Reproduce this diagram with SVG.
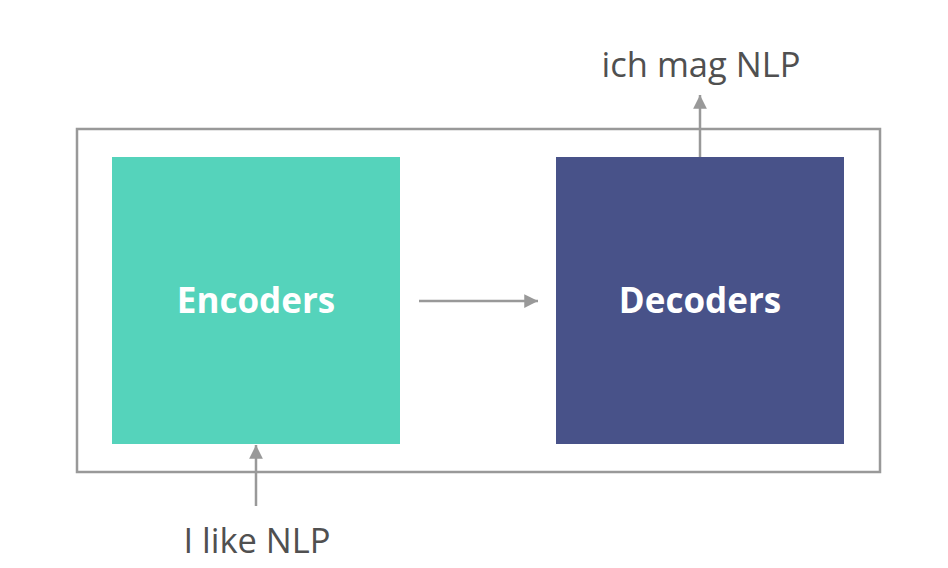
<svg xmlns="http://www.w3.org/2000/svg" width="948" height="568" viewBox="0 0 948 568">
<style>
.lbl{font-family:"Open Sans","Noto Sans",sans-serif;font-size:34.5px;fill:#505050;text-anchor:middle}
.nt{font-family:"Open Sans","Noto Sans",sans-serif;font-size:35px;font-weight:bold;fill:#ffffff;text-anchor:middle}
.conn{stroke:#999999;stroke-width:2.5;fill:none}
</style>
<defs>
<marker id="ah" viewBox="0 0 10 10" refX="10" refY="5" markerWidth="5.5" markerHeight="5.5" orient="auto" markerUnits="strokeWidth">
<path d="M0,0 L10,5 L0,10 z" fill="#999999"/>
</marker>
</defs>
<rect width="948" height="568" fill="#ffffff"/>
<g id="container"><rect x="77" y="129" width="803" height="343" fill="none" stroke="#999999" stroke-width="2.5"/></g>
<g id="encoders"><rect x="112" y="157" width="288" height="287" fill="#55d3bb"/><text class="nt" x="256" y="313">Encoders</text></g>
<g id="decoders"><rect x="556" y="157" width="288" height="287" fill="#485289"/><text class="nt" x="700" y="313">Decoders</text></g>
<g id="input"><text class="lbl" x="257" y="553">I like NLP</text></g>
<g id="output"><text class="lbl" x="701" y="77">ich mag NLP</text></g>
<g id="connectors">
<line class="conn" x1="419" y1="301" x2="538" y2="301" marker-end="url(#ah)"/>
<line class="conn" x1="256" y1="506" x2="256" y2="445" marker-end="url(#ah)"/>
<line class="conn" x1="700" y1="157" x2="700" y2="95" marker-end="url(#ah)"/>
</g>
</svg>
